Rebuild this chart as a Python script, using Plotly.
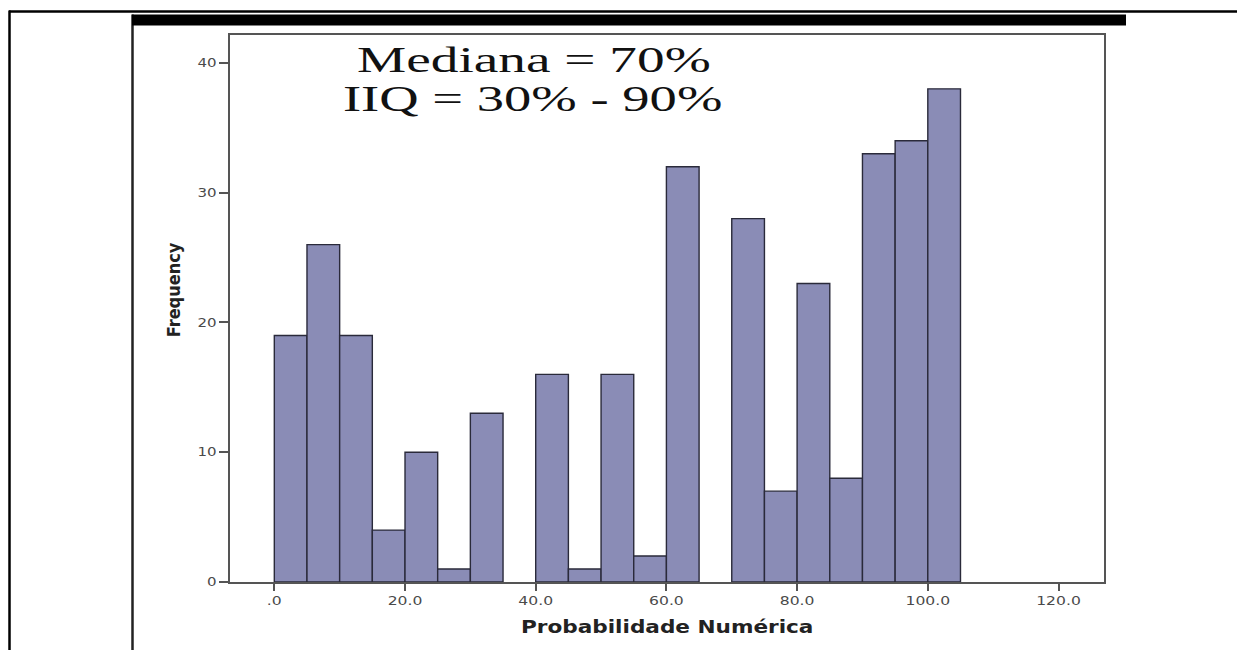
import plotly.graph_objects as go

# Histogram of "Probabilidade Numérica" in 5-point bins
bin_starts = [0, 5, 10, 15, 20, 25, 30, 35, 40, 45, 50, 55, 60, 65, 70, 75, 80, 85, 90, 95, 100]
frequencies = [19, 26, 19, 4, 10, 1, 13, 0, 16, 1, 16, 2, 32, 0, 28, 7, 23, 8, 33, 34, 38]
bin_width = 5

x_tick_values = [0, 20, 40, 60, 80, 100, 120]
x_tick_labels = [".0", "20.0", "40.0", "60.0", "80.0", "100.0", "120.0"]
y_tick_values = [0, 10, 20, 30, 40]

summary_lines = ["Mediana = 70%", "IIQ = 30% - 90%"]

W, H = 1237, 650
L, R, T, B = 230, 1104, 34.5, 582  # plot area in pixels


def px_x(px):
    return (px - L) / (R - L)


def px_y(py):
    return (B - py) / (B - T)


# empty bins have no bar
shown = [(s + bin_width / 2, f) for s, f in zip(bin_starts, frequencies) if f > 0]
bar_centers = [c for c, _ in shown]
bar_heights = [f for _, f in shown]

fig = go.Figure()
fig.add_trace(go.Bar(
    x=bar_centers,
    y=bar_heights,
    width=[bin_width] * len(bar_centers),
    marker=dict(color="#8a8cb6", line=dict(color="#2a2a3a", width=1.4)),
    hoverinfo="x+y",
))

axis_common = dict(
    showline=True, linecolor="#555555", linewidth=2, mirror=True,
    showgrid=False, zeroline=False, ticks="outside", tickcolor="#555555",
    tickwidth=2, automargin=False,
    tickfont=dict(family="DejaVu Sans", size=12, color="#4a4a4a"),
)

fig.update_xaxes(range=[-6.78, 126.96], tickmode="array", tickvals=x_tick_values,
                 ticktext=x_tick_labels, ticklen=7, **axis_common)
fig.update_yaxes(range=[0, 42.15], tickmode="array", tickvals=y_tick_values,
                 ticklen=9, **axis_common)

annotations = [
    dict(text=summary_lines[0], x=px_x(534), y=px_y(60), xref="paper", yref="paper",
         xanchor="center", yanchor="middle", showarrow=False,
         font=dict(family="Liberation Serif", size=35, color="#111111")),
    dict(text=summary_lines[1], x=px_x(532), y=px_y(99), xref="paper", yref="paper",
         xanchor="center", yanchor="middle", showarrow=False,
         font=dict(family="Liberation Serif", size=35, color="#111111")),
    dict(text="<b>Probabilidade Numérica</b>", x=px_x(667), y=px_y(627), xref="paper",
         yref="paper", xanchor="center", yanchor="middle", showarrow=False,
         font=dict(family="DejaVu Sans", size=17, color="#222222")),
    dict(text="<b>Frequency</b>", x=px_x(173), y=px_y(290), xref="paper", yref="paper",
         xanchor="center", yanchor="middle", showarrow=False, textangle=-90,
         font=dict(family="DejaVu Sans Condensed, DejaVu Sans", size=18, color="#222222")),
]

# Page frame: outer rules, inner rule and the heavy header bar
frame_shapes = [
    dict(type="line", xref="paper", yref="paper", x0=px_x(9), x1=px_x(1237),
         y0=px_y(11), y1=px_y(11), line=dict(color="#000000", width=2.5)),
    dict(type="line", xref="paper", yref="paper", x0=px_x(9.5), x1=px_x(9.5),
         y0=px_y(10), y1=px_y(650), line=dict(color="#000000", width=2.5)),
    dict(type="line", xref="paper", yref="paper", x0=px_x(132.5), x1=px_x(132.5),
         y0=px_y(14), y1=px_y(650), line=dict(color="#222222", width=2.5)),
    dict(type="rect", xref="paper", yref="paper", x0=px_x(132), x1=px_x(1126),
         y0=px_y(14), y1=px_y(25), line=dict(width=0), fillcolor="#000000"),
]

fig.update_layout(
    width=W, height=H,
    margin=dict(l=L, r=W - R, t=T, b=H - B, pad=0),
    paper_bgcolor="white", plot_bgcolor="white",
    showlegend=False, template="none",
    annotations=annotations, shapes=frame_shapes,
)

# Widen the text horizontally to follow the wide lettering of the original layout
post = """
var gd = document.getElementById('{plot_id}');
function widen(el, s, anchor) {
  var b = el.getBBox();
  var cx = anchor === 'end' ? b.x + b.width : b.x + b.width / 2;
  var tr = el.getAttribute('transform') || '';
  el.setAttribute('transform', tr + ' translate(' + cx + ',0) scale(' + s + ',1) translate(' + (-cx) + ',0)');
}
var ann = gd.querySelectorAll('.annotation-text');
var annScale = [1.58, 1.56, 1.27, 1.0];
ann.forEach(function (t, i) { if (annScale[i] !== 1.0) widen(t, annScale[i], 'middle'); });
gd.querySelectorAll('.xtick text').forEach(function (t) { widen(t, 1.3, 'middle'); });
gd.querySelectorAll('.ytick text').forEach(function (t) { widen(t, 1.25, 'end'); });
"""

fig.write_html("out.html", post_script=post)
